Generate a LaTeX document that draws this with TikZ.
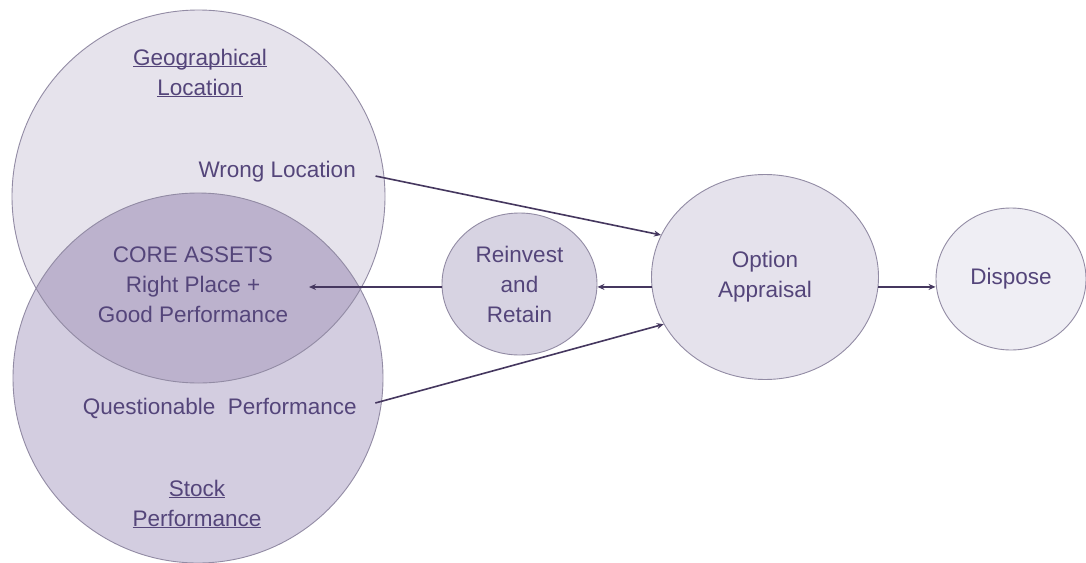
\documentclass[tikz,border=0pt]{standalone}
\usepackage{fontspec}
\setmainfont{Liberation Sans}
\usetikzlibrary{shapes.geometric,arrows.meta}
\definecolor{txt}{HTML}{54457A}
\definecolor{ln}{HTML}{45375F}
\definecolor{edge}{HTML}{928BA4}
\definecolor{geo}{HTML}{E6E3EC}
\definecolor{stock}{HTML}{D3CDE0}
\definecolor{coref}{HTML}{BCB2CD}
\definecolor{reinv}{HTML}{D7D3E2}
\definecolor{optf}{HTML}{E5E2EC}
\definecolor{disp}{HTML}{EFEEF4}
\newcommand\myul[1]{\setbox0\hbox{#1}\rlap{\rule[-2.2pt]{\wd0}{1pt}}\box0}
\begin{document}
\begin{tikzpicture}[x=1pt,y=-1pt,
 lbl/.style={text=txt,font=\fontsize{22.5}{30}\selectfont,align=center,inner sep=0pt},
 bubble/.style={ellipse,draw=edge,line width=0.9pt,inner sep=0pt,text=txt,font=\fontsize{22.5}{30}\selectfont,align=center},
 conn/.style={draw=ln,line width=1.6pt,-{Stealth[length=7pt,width=6pt]}}]
\useasboundingbox (0,0) rectangle (1086,562);
\fill[white] (0,0) rectangle (1086,562);
% Venn circles
\node[circle,fill=geo,minimum size=373pt,inner sep=0pt] (geoC) at (198.5,196.5) {};
\node[circle,fill=stock,minimum size=370pt,inner sep=0pt] (stockC) at (198,378) {};
\begin{scope}
\clip (geoC.center) circle[radius=186.5];
\fill[coref] (stockC.center) circle[radius=185];
\end{scope}
\draw[edge,line width=0.9pt] (geoC.center) circle[radius=186.5];
\draw[edge,line width=0.9pt] (stockC.center) circle[radius=185];
% Venn texts
\node[lbl] (geoT) at (200,73) {\myul{Geographical}\\\myul{Location}};
\node[lbl,anchor=east] (wl) at (356,172) {Wrong Location};
\node[lbl] (coreT) at (193,285) {CORE ASSETS\\Right Place +\\Good Performance};
\node[lbl,anchor=east] (qp) at (357,408) {Questionable\ \ Performance};
\node[lbl] (stockT) at (197,504) {\myul{Stock}\\\myul{Performance}};
% bubbles
\node[bubble,fill=reinv,minimum width=155pt,minimum height=142pt] (rei) at (519.5,284) {Reinvest\\and\\Retain};
\node[bubble,fill=optf,minimum width=227pt,minimum height=205pt] (opt) at (765,277) {Option\\Appraisal};
\node[bubble,fill=disp,minimum width=150pt,minimum height=142pt] (dsp) at (1011,279) {Dispose};
\coordinate (coreTip) at (309,287);
% connectors
\draw[conn,shorten <=20pt] (wl.east) -- (opt.158);
\draw[conn,shorten <=19pt] (qp.east) -- (opt.205);
\draw[conn] (opt.185) -- (opt.185 -| rei.east);
\draw[conn] (rei.west |- coreTip) -- (coreTip);
\draw[conn] (opt.355) -- (opt.355 -| dsp.west);
\end{tikzpicture}
\end{document}
